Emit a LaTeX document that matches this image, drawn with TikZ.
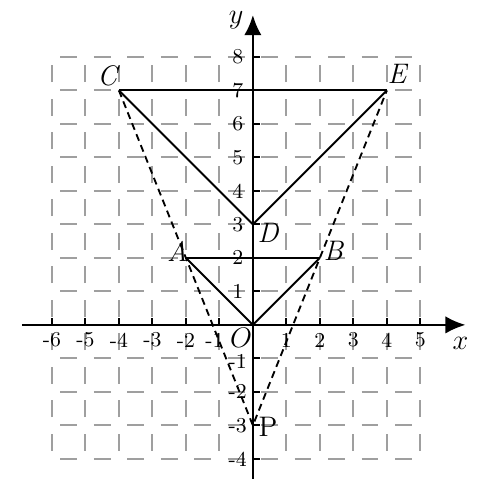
\documentclass[tikz,border=0pt]{standalone}
\usetikzlibrary{arrows.meta}
\begin{document}
\begin{tikzpicture}[x=0.5cm, y=0.5cm,
  gridline/.style={gray!75, line width=0.9pt, dash pattern=on 0.25cm off 0.25cm, dash phase=0.375cm},
  axis/.style={line width=1pt, -{Latex[length=3mm, width=2.6mm]}},
  seg/.style={line width=0.8pt},
  aux/.style={line width=0.8pt, densely dashed},
  ticklbl/.style={font=\small, inner sep=1pt},
  ptlbl/.style={font=\large\itshape, inner sep=1pt}]
\useasboundingbox (-7.55,-4.78) rectangle (6.93,9.70);

% dashed grid
\foreach \i in {-6,...,5} \draw[gridline] (\i,-4) -- (\i,8);
\foreach \j in {-4,...,8} \draw[gridline] (-6,\j) -- (5,\j);

% axes
\coordinate (xs) at (-6.9,0);
\coordinate (xe) at (6.35,0);
\coordinate (ys) at (0,-4.6);
\coordinate (ye) at (0,9.25);
\draw[axis] (xs) -- (xe);
\draw[axis] (ys) -- (ye);
\node (xlab) at (6.2,-0.55) {\large$x$};
\node (ylab) at (-0.5,9.1) {\large$y$};
\node[inner sep=1pt] (orig) at (-0.35,-0.38) {\large$O$};
\foreach \i in {-6,...,-2,2,3,4,5} {
  \draw[line width=0.8pt] (\i,0) -- (\i,0.2);
  \node[ticklbl] (tx\i) at (\i,-0.45) {\i};
}
\draw[line width=0.8pt] (-1,0) -- (-1,0.2);
\draw[line width=0.8pt] (1,0) -- (1,0.2);
\node[ticklbl] (txm1) at (-1.15,-0.45) {-1};
\node[ticklbl] (tx1) at (1,-0.45) {1};
\foreach \j in {-4,...,-2,1,2,...,8} {
  \draw[line width=0.8pt] (0,\j) -- (0.2,\j);
  \node[ticklbl] (ty\j) at (-0.45,\j) {\j};
}
\draw[line width=0.8pt] (0,-1) -- (0.2,-1);
\node[ticklbl] (tym1) at (-0.45,-1.1) {-1};

% points
\coordinate (C) at (-4,7);
\coordinate (E) at (4,7);
\coordinate (D) at (0,3);
\coordinate (A) at (-2,2);
\coordinate (B) at (2,2);
\coordinate (O) at (0,0);
\coordinate (P) at (0,-3);

% figure
\draw[seg] (C) -- (E);
\draw[seg] (C) -- (D) -- (E);
\draw[seg] (A) -- (B);
\draw[seg] (A) -- (O) -- (B);
\draw[aux] (C) -- (P) -- (E);

% labels
\node[ptlbl] (lC) at (-4.35,7.45) {C};
\node[ptlbl] (lE) at (4.3,7.5) {E};
\node[ptlbl] (lD) at (0.45,2.75) {D};
\node[ptlbl] (lA) at (-2.25,2.2) {A};
\node[ptlbl] (lB) at (2.4,2.2) {B};
\node[font=\large, inner sep=1pt] (lP) at (0.45,-3.05) {P};
\end{tikzpicture}
\end{document}
